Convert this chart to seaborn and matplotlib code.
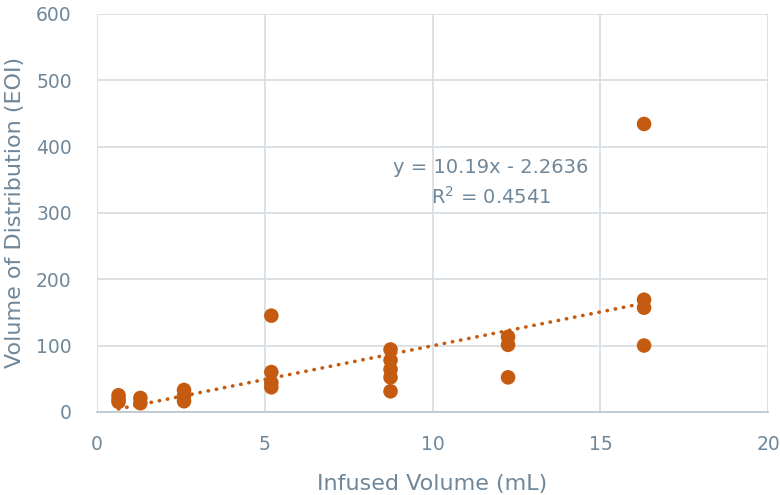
import numpy as np
import pandas as pd
import matplotlib
matplotlib.use("Agg")
import matplotlib.pyplot as plt
import seaborn as sns

# Infused volume (mL) and volume of distribution (EOI) per measurement
infused_ml = [0.65, 0.65, 0.65,
              1.3, 1.3,
              2.6, 2.6, 2.6,
              5.2, 5.2, 5.2, 5.2,
              8.75, 8.75, 8.75, 8.75, 8.75,
              12.25, 12.25, 12.25,
              16.3, 16.3, 16.3, 16.3]
vd_eoi = [25, 19, 15,
          21, 13,
          33, 24, 16,
          145, 60, 44, 37,
          94, 78, 64, 52, 31,
          113, 101, 52,
          434, 169, 157, 100]

# Linear trendline coefficients and fit quality
slope = 10.19
intercept = -2.2636
r_squared = 0.4541

x_ticks = [0, 5, 10, 15, 20]
y_ticks = [0, 100, 200, 300, 400, 500, 600]

point_color = "#C55A11"
text_color = "#6F8799"
grid_color = "#D9DEE3"
axis_color = "#BFC7CF"

df = pd.DataFrame({"Infused Volume (mL)": infused_ml,
                   "Volume of Distribution (EOI)": vd_eoi})

sns.set_theme(style="white")
plt.rcParams["font.family"] = ["DejaVu Sans"]

fig = plt.figure(figsize=(7.8, 4.95), dpi=100)
ax = fig.add_axes([0.124, 0.168, 0.861, 0.804])

sns.scatterplot(data=df, x="Infused Volume (mL)", y="Volume of Distribution (EOI)",
                ax=ax, s=110, color=point_color, edgecolor="none", zorder=3)

xs = np.array([min(infused_ml), max(infused_ml)])
sns.lineplot(x=xs, y=slope * xs + intercept, ax=ax, color=point_color,
             linestyle=(0, (0.1, 2.2)), linewidth=2.6, zorder=2)
ax.lines[-1].set_dash_capstyle("round")

ax.set_xlim(0, 20)
ax.set_ylim(0, 600)
ax.set_xticks(x_ticks)
ax.set_yticks(y_ticks)
ax.grid(True, color=grid_color, linewidth=1.3, zorder=0)
ax.set_axisbelow(True)

for side in ["top", "right", "left"]:
    ax.spines[side].set_visible(False)
ax.spines["bottom"].set_color(axis_color)
ax.spines["bottom"].set_linewidth(1.3)

ax.tick_params(axis="both", length=0, labelsize=13.5, labelcolor=text_color)
ax.tick_params(axis="x", pad=17)
ax.tick_params(axis="y", pad=18)

ax.set_xlabel("Infused Volume (mL)", fontsize=16, color=text_color, labelpad=14)
ax.set_ylabel("Volume of Distribution (EOI)", fontsize=16, color=text_color, labelpad=8)

eq_text = f"y = {slope}x - {abs(intercept)}\n$\\mathregular{{R^2}}$ = {r_squared}"
ax.text(11.73, 382, eq_text, ha="center", va="top", fontsize=14,
        color=text_color, linespacing=1.45)

fig.savefig("out.png", dpi=100)
